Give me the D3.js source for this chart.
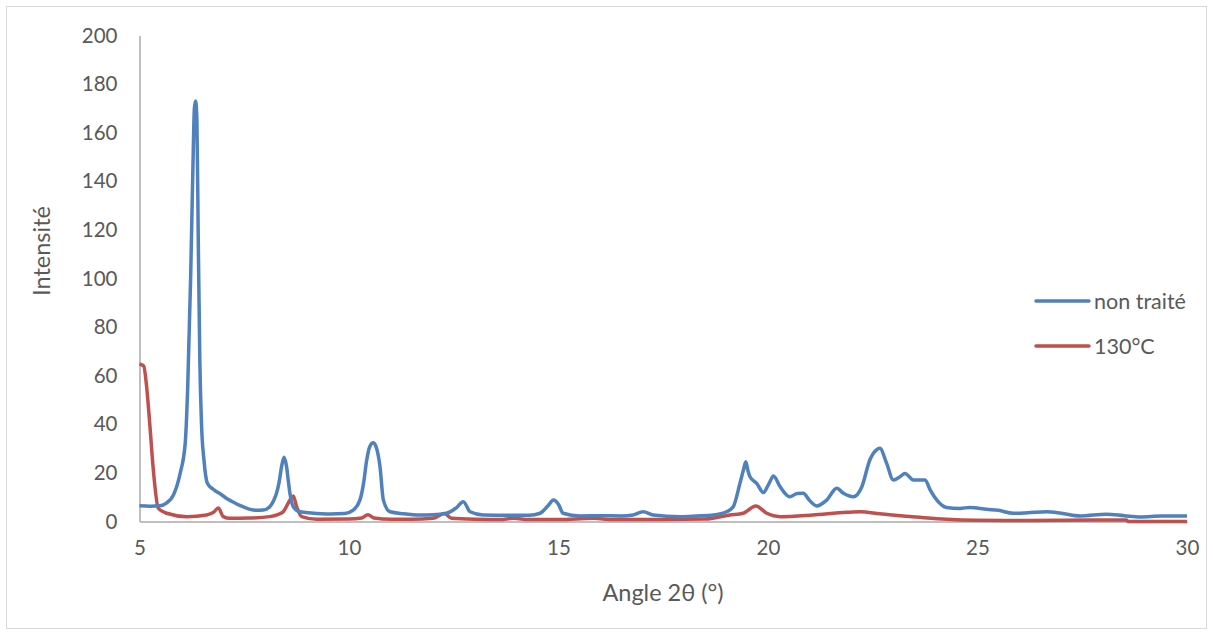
<!DOCTYPE html>
<html><head><meta charset="utf-8">
<script src="https://cdn.jsdelivr.net/npm/d3@7"></script>
<style>body{margin:0;background:#fff;}svg{display:block;font-family:Lato,"Open Sans",sans-serif;}</style>
</head><body><svg id="c" width="1213" height="635"></svg>
<script>
const xTicks = [5, 10, 15, 20, 25, 30];
const yTicks = [0, 20, 40, 60, 80, 100, 120, 140, 160, 180, 200];
const seriesNames = ["non traité", "130°C"];

const blueX = [5.0,5.25,5.49,5.65,5.81,5.97,6.09,6.15,6.22,6.28,6.31,6.34,6.37,6.40,6.44,6.48,6.54,6.62,6.74,6.84,6.96,7.08,7.2,7.32,7.48,7.64,7.8,7.95,8.11,8.2,8.27,8.33,8.39,8.45,8.51,8.55,8.59,8.67,8.83,9.1,9.55,9.9,10.1,10.26,10.35,10.42,10.5,10.58,10.66,10.74,10.82,10.98,11.3,11.69,12.0,12.33,12.55,12.73,12.89,13.2,13.8,14.3,14.56,14.75,14.88,15.0,15.11,15.51,16.0,16.5,16.78,17.02,17.26,17.9,18.3,18.7,19.01,19.17,19.33,19.41,19.47,19.52,19.57,19.73,19.89,20.02,20.13,20.29,20.52,20.7,20.84,21.0,21.16,21.4,21.64,21.8,22.04,22.24,22.43,22.59,22.67,22.83,22.99,23.15,23.27,23.47,23.75,23.87,24.03,24.26,24.58,24.82,25.22,25.5,25.85,26.2,26.65,27.0,27.45,28.08,28.5,28.88,29.4,30.0];
const blueY = [6.5,6.3,6.5,7.7,10.9,19.8,32,55,100,150,170,173,165,120,66,40,25,15.7,13.5,12.3,11,9.5,8.3,7.2,6,5.0,4.6,4.7,6.1,8.5,11.6,16,22.5,26.4,22.5,17,11.6,6.1,4.0,3.5,3.1,3.3,4.7,8.8,16,25,31,32.4,30,22.5,8.8,4.0,3.2,2.7,2.8,3.4,5.5,8.1,4.0,2.7,2.6,2.6,3.4,6.5,8.8,7,3.4,2.3,2.4,2.3,2.7,4.0,2.7,2.0,2.3,2.7,4.0,6.1,15.7,21,24.6,21,18.4,15.7,11.9,15.5,18.7,14.3,10.2,11.5,11.6,8.5,6.4,8.8,13.7,11.6,10.2,14.3,25.3,29.5,30.1,24,17.1,18.4,19.8,17.1,17.1,13,8.8,5.8,5.4,5.8,5.0,4.6,3.4,3.6,4.0,3.4,2.3,3.0,2.4,1.9,2.3,2.3];

const redX = [5.0,5.1,5.17,5.25,5.33,5.45,5.65,6.13,6.6,6.78,6.88,7.0,7.16,7.6,8.11,8.3,8.43,8.59,8.67,8.75,8.87,9.23,10.0,10.3,10.45,10.6,11.0,11.5,12.0,12.28,12.45,13.0,13.6,13.92,14.3,15.0,15.83,16.3,17.5,18.5,19.09,19.41,19.71,19.97,20.29,21.07,21.88,22.2,22.67,23.63,24.26,25.0,26.0,27.0,28.0,28.55,28.6,29.3,30.0];
const redY = [64.8,64,55.5,39,21.2,5.4,3.4,2.0,2.7,4.0,5.6,2.0,1.3,1.4,2.0,2.8,4.0,8.8,10.5,6.1,2.0,0.9,1.0,1.4,2.8,1.4,0.9,0.9,1.3,3.3,1.3,0.9,0.8,1.3,0.8,0.8,1.3,0.8,0.8,1.0,2.7,3.4,6.4,3.4,2.0,2.7,3.8,4.0,3.2,1.7,0.9,0.5,0.4,0.5,0.6,0.6,0.0,0.0,0.0];

const svg = d3.select("#c");
const m = {l:139.5, r:1187, t:35.5, b:521.5};
const x = d3.scaleLinear().domain([5,30]).range([m.l, m.r]);
const y = d3.scaleLinear().domain([0,200]).range([m.b, m.t]);

// outer border
svg.append("rect").attr("x",6.5).attr("y",6.5).attr("width",1200).attr("height",622)
  .attr("fill","none").attr("stroke","#d9d9d9").attr("stroke-width",1);

// axes
const ya = svg.append("g").attr("transform",`translate(${m.l},0)`)
  .call(d3.axisLeft(y).tickValues(yTicks).tickSize(0).tickPadding(22));
const xa = svg.append("g").attr("transform",`translate(0,${m.b})`)
  .call(d3.axisBottom(x).tickValues(xTicks).tickSize(0).tickPadding(19));
[ya,xa].forEach(g=>{
  g.select(".domain").attr("stroke","#bfbfbf").attr("stroke-width",2);
  g.selectAll("text").attr("fill","#595959").style("font-size","20.5px").style("font-family","Lato,'Open Sans',sans-serif");
});

const line = d3.line().x(d=>x(d[0])).y(d=>y(d[1])).curve(d3.curveMonotoneX);
const blue = blueX.map((v,i)=>[v,blueY[i]]);
const red = redX.map((v,i)=>[v,redY[i]]);
svg.append("path").datum(red).attr("d",line).attr("fill","none").attr("stroke","#c0504d").attr("stroke-width",3.5).attr("stroke-linejoin","round");
svg.append("path").datum(blue).attr("d",line).attr("fill","none").attr("stroke","#4f81bd").attr("stroke-width",3.5).attr("stroke-linejoin","round");

// axis titles
svg.append("text").attr("x",663).attr("y",601).attr("text-anchor","middle")
  .attr("fill","#595959").style("font-size","23.5px").text("Angle 2θ (°)");
svg.append("text").attr("transform","translate(50,251) rotate(-90)").attr("text-anchor","middle")
  .attr("fill","#595959").style("font-size","23.5px").text("Intensité");

// legend
const colors = ["#4f81bd","#c0504d"];
const lg = svg.append("g");
seriesNames.forEach((n,i)=>{
  const yy = 301 + i*45;
  lg.append("line").attr("x1",1036).attr("x2",1089).attr("y1",yy).attr("y2",yy)
    .attr("stroke",colors[i]).attr("stroke-width",3.5).attr("stroke-linecap","round");
  lg.append("text").attr("x",1094).attr("y",yy).attr("dy","0.35em").attr("fill","#595959")
    .style("font-size","21.5px").text(n);
});
</script></body></html>
